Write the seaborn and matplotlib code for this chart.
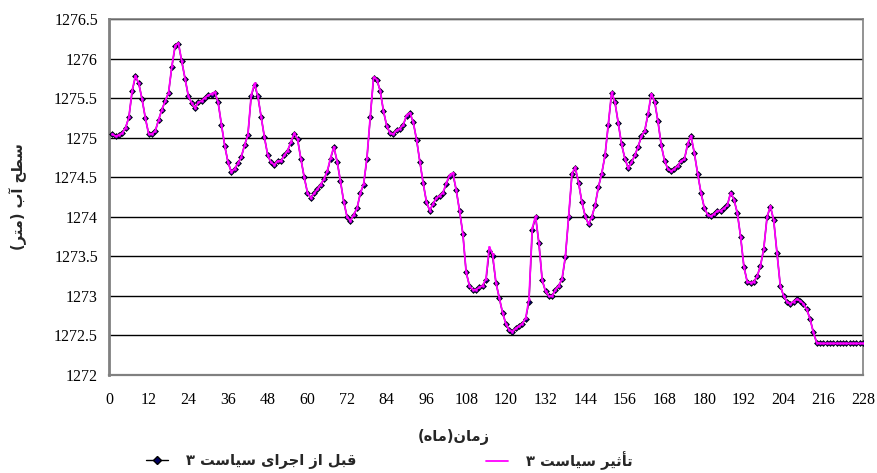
import numpy as np
import matplotlib
matplotlib.use("Agg")
import matplotlib.pyplot as plt
from matplotlib.lines import Line2D
import seaborn as sns

# ---------------- data ----------------
months = np.arange(1, 229)

before_policy = [
    1275.05, 1275.02, 1275.04, 1275.06, 1275.13, 1275.26, 1275.59, 1275.78, 1275.69, 1275.49, 1275.25, 1275.05,
    1275.05, 1275.09, 1275.23, 1275.36, 1275.47, 1275.57, 1275.90, 1276.16, 1276.19, 1275.97, 1275.75, 1275.53,
    1275.44, 1275.38, 1275.45, 1275.47, 1275.51, 1275.54, 1275.55, 1275.57, 1275.45, 1275.17, 1274.90, 1274.69,
    1274.57, 1274.61, 1274.68, 1274.76, 1274.91, 1275.04, 1275.53, 1275.67, 1275.53, 1275.27, 1275.01, 1274.78,
    1274.69, 1274.66, 1274.71, 1274.71, 1274.78, 1274.84, 1274.94, 1275.05, 1274.99, 1274.74, 1274.51, 1274.31,
    1274.24, 1274.30, 1274.35, 1274.41, 1274.48, 1274.57, 1274.74, 1274.88, 1274.70, 1274.45, 1274.19, 1274.00,
    1273.95, 1274.03, 1274.11, 1274.30, 1274.41, 1274.74, 1275.26, 1275.76, 1275.73, 1275.60, 1275.34, 1275.15,
    1275.06, 1275.05, 1275.10, 1275.12, 1275.17, 1275.28, 1275.31, 1275.20, 1274.98, 1274.70, 1274.43, 1274.19,
    1274.08, 1274.17, 1274.24, 1274.27, 1274.30, 1274.42, 1274.52, 1274.54, 1274.34, 1274.08, 1273.79, 1273.30,
    1273.13, 1273.08, 1273.08, 1273.11, 1273.13, 1273.20, 1273.57, 1273.50, 1273.17, 1272.98, 1272.79, 1272.65,
    1272.57, 1272.55, 1272.59, 1272.62, 1272.65, 1272.71, 1272.93, 1273.84, 1274.00, 1273.67, 1273.20, 1273.06,
    1273.00, 1273.00, 1273.08, 1273.13, 1273.21, 1273.49, 1274.00, 1274.54, 1274.62, 1274.43, 1274.19, 1274.01,
    1273.91, 1274.00, 1274.15, 1274.38, 1274.55, 1274.78, 1275.17, 1275.57, 1275.45, 1275.19, 1274.92, 1274.74,
    1274.62, 1274.69, 1274.78, 1274.89, 1275.02, 1275.09, 1275.30, 1275.55, 1275.46, 1275.21, 1274.91, 1274.71,
    1274.61, 1274.58, 1274.61, 1274.65, 1274.71, 1274.73, 1274.92, 1275.02, 1274.81, 1274.55, 1274.31, 1274.12,
    1274.03, 1274.01, 1274.04, 1274.08, 1274.08, 1274.11, 1274.15, 1274.31, 1274.22, 1274.05, 1273.75, 1273.37,
    1273.18, 1273.17, 1273.18, 1273.25, 1273.38, 1273.60, 1274.00, 1274.13, 1273.96, 1273.54, 1273.13, 1273.00,
    1272.93, 1272.90, 1272.93, 1272.96, 1272.94, 1272.90, 1272.83, 1272.71, 1272.54, 1272.41, 1272.40, 1272.40,
    1272.40, 1272.40, 1272.40, 1272.40, 1272.40, 1272.40, 1272.40, 1272.40, 1272.40, 1272.40, 1272.40, 1272.40,
]

after_policy = [
    1275.05, 1275.02, 1275.04, 1275.06, 1275.13, 1275.26, 1275.60, 1275.79, 1275.69, 1275.49, 1275.25, 1275.05,
    1275.05, 1275.09, 1275.23, 1275.36, 1275.47, 1275.57, 1275.91, 1276.17, 1276.20, 1275.97, 1275.75, 1275.53,
    1275.44, 1275.38, 1275.45, 1275.47, 1275.51, 1275.54, 1275.56, 1275.58, 1275.45, 1275.17, 1274.90, 1274.69,
    1274.57, 1274.61, 1274.68, 1274.76, 1274.91, 1275.04, 1275.54, 1275.69, 1275.53, 1275.27, 1275.01, 1274.78,
    1274.69, 1274.66, 1274.71, 1274.71, 1274.78, 1274.84, 1274.95, 1275.06, 1274.99, 1274.74, 1274.51, 1274.31,
    1274.24, 1274.30, 1274.35, 1274.41, 1274.48, 1274.58, 1274.75, 1274.89, 1274.70, 1274.45, 1274.19, 1274.00,
    1273.95, 1274.03, 1274.11, 1274.30, 1274.42, 1274.75, 1275.27, 1275.77, 1275.74, 1275.60, 1275.34, 1275.15,
    1275.06, 1275.05, 1275.10, 1275.12, 1275.17, 1275.29, 1275.32, 1275.20, 1274.98, 1274.70, 1274.43, 1274.19,
    1274.08, 1274.17, 1274.24, 1274.27, 1274.31, 1274.43, 1274.53, 1274.56, 1274.34, 1274.08, 1273.79, 1273.30,
    1273.13, 1273.08, 1273.08, 1273.11, 1273.13, 1273.22, 1273.62, 1273.53, 1273.17, 1272.98, 1272.79, 1272.65,
    1272.57, 1272.55, 1272.59, 1272.62, 1272.65, 1272.72, 1272.96, 1273.86, 1274.01, 1273.67, 1273.20, 1273.06,
    1273.00, 1273.00, 1273.08, 1273.13, 1273.22, 1273.50, 1274.01, 1274.55, 1274.63, 1274.43, 1274.19, 1274.01,
    1273.91, 1274.00, 1274.15, 1274.38, 1274.55, 1274.78, 1275.18, 1275.58, 1275.45, 1275.19, 1274.92, 1274.74,
    1274.62, 1274.69, 1274.78, 1274.89, 1275.02, 1275.09, 1275.31, 1275.56, 1275.46, 1275.21, 1274.91, 1274.71,
    1274.61, 1274.58, 1274.61, 1274.65, 1274.71, 1274.73, 1274.93, 1275.03, 1274.81, 1274.55, 1274.31, 1274.12,
    1274.03, 1274.01, 1274.04, 1274.08, 1274.08, 1274.11, 1274.15, 1274.31, 1274.22, 1274.05, 1273.75, 1273.37,
    1273.18, 1273.17, 1273.18, 1273.25, 1273.38, 1273.60, 1274.00, 1274.14, 1273.96, 1273.54, 1273.13, 1273.00,
    1272.93, 1272.90, 1272.93, 1272.96, 1272.94, 1272.90, 1272.83, 1272.71, 1272.54, 1272.41, 1272.40, 1272.40,
    1272.40, 1272.40, 1272.40, 1272.40, 1272.40, 1272.40, 1272.40, 1272.40, 1272.40, 1272.40, 1272.40, 1272.40,
]

x_ticks = [0, 12, 24, 36, 48, 60, 72, 84, 96, 108, 120, 132, 144, 156, 168, 180, 192, 204, 216, 228]
y_ticks = [1272, 1272.5, 1273, 1273.5, 1274, 1274.5, 1275, 1275.5, 1276, 1276.5]
y_tick_labels = ["1272", "1272.5", "1273", "1273.5", "1274", "1274.5", "1275", "1275.5", "1276", "1276.5"]

x_label = "زمان(ماه)"
y_label = "سطح آب (متر)"
label_before = "قبل از اجرای سیاست ۳"
label_after = "تأثیر سیاست ۳"

# ------------- minimal Persian shaping (presentation forms + RTL) -------------
FORMS = {
    "\u0627": ("\uFE8D", "\uFE8E", None, None),
    "\u0622": ("\uFE81", "\uFE82", None, None),
    "\u0623": ("\uFE83", "\uFE84", None, None),
    "\u0628": ("\uFE8F", "\uFE90", "\uFE91", "\uFE92"),
    "\u062A": ("\uFE95", "\uFE96", "\uFE97", "\uFE98"),
    "\u062B": ("\uFE99", "\uFE9A", "\uFE9B", "\uFE9C"),
    "\u062C": ("\uFE9D", "\uFE9E", "\uFE9F", "\uFEA0"),
    "\u062D": ("\uFEA1", "\uFEA2", "\uFEA3", "\uFEA4"),
    "\u062F": ("\uFEA9", "\uFEAA", None, None),
    "\u0631": ("\uFEAD", "\uFEAE", None, None),
    "\u0632": ("\uFEAF", "\uFEB0", None, None),
    "\u0633": ("\uFEB1", "\uFEB2", "\uFEB3", "\uFEB4"),
    "\u0637": ("\uFEC1", "\uFEC2", "\uFEC3", "\uFEC4"),
    "\u0642": ("\uFED5", "\uFED6", "\uFED7", "\uFED8"),
    "\u0644": ("\uFEDD", "\uFEDE", "\uFEDF", "\uFEE0"),
    "\u0645": ("\uFEE1", "\uFEE2", "\uFEE3", "\uFEE4"),
    "\u0646": ("\uFEE5", "\uFEE6", "\uFEE7", "\uFEE8"),
    "\u0647": ("\uFEE9", "\uFEEA", "\uFEEB", "\uFEEC"),
    "\u0648": ("\uFEED", "\uFEEE", None, None),
    "\u06CC": ("\uFEEF", "\uFEF0", "\uFEF3", "\uFEF4"),
}


def fa(s):
    out = []
    for i, c in enumerate(s):
        f = FORMS.get(c)
        if f is None:
            out.append(c)
            continue
        prev = s[i - 1] if i > 0 else ""
        nxt = s[i + 1] if i + 1 < len(s) else ""
        jp = prev in FORMS and FORMS[prev][2] is not None
        jn = nxt in FORMS and f[2] is not None
        if jp and jn:
            g = f[3]
        elif jp:
            g = f[1]
        elif jn:
            g = f[2]
        else:
            g = f[0]
        out.append(g)
    mirror = {"(": ")", ")": "("}
    return "".join(mirror.get(c, c) for c in reversed(out))


# ---------------- plot ----------------
sns.set_style("white")
plt.rcParams["font.family"] = ["Liberation Serif", "DejaVu Sans"]

fig = plt.figure(figsize=(8.77, 4.73), dpi=100)
ax = fig.add_axes([0.1243, 0.2072, 0.8597, 0.7516])

sns.lineplot(x=months, y=before_policy, ax=ax, color="black", lw=1.0,
             marker="D", markersize=3.0, markerfacecolor="#000060",
             markeredgecolor="black", markeredgewidth=0.5, zorder=3, legend=False)
sns.lineplot(x=months, y=after_policy, ax=ax, color="#FF00FF", lw=1.3,
             marker="o", markersize=1.6, markerfacecolor="#FF00FF",
             markeredgecolor="#FF00FF", markeredgewidth=0.3, zorder=4, legend=False)

ax.set_xlim(0, 228)
ax.set_ylim(1272, 1276.5)
ax.set_xticks(x_ticks)
ax.set_xticklabels([str(t) for t in x_ticks])
ax.set_yticks(y_ticks)
ax.set_yticklabels(y_tick_labels)
ax.yaxis.grid(True, color="black", lw=1.0)
ax.xaxis.grid(False)
ax.set_axisbelow(True)
for side, lw in [("left", 2.0), ("bottom", 1.6), ("top", 1.2), ("right", 1.2)]:
    ax.spines[side].set_color("#808080")
    ax.spines[side].set_linewidth(lw)
    ax.spines[side].set_visible(True)
ax.tick_params(axis="both", direction="out", length=5, width=1, color="#808080",
               labelsize=11.5, labelcolor="black")
ax.tick_params(axis="x", pad=7)
ax.tick_params(axis="y", pad=3)
ax.set_xlabel("")
ax.set_ylabel("")

fig.text(454 / 877, 1 - 437 / 473, fa(x_label), ha="center", va="center",
         fontsize=10.5, fontweight="bold", family=["DejaVu Sans"])
fig.text(18 / 877, 1 - 197 / 473, fa(y_label), ha="center", va="center",
         rotation=90, fontsize=10.5, fontweight="bold", family=["DejaVu Sans"])

h_before = Line2D([], [], color="black", lw=1.0, marker="D", markersize=3.6,
                  markerfacecolor="#000060", markeredgecolor="black")
h_after = Line2D([], [], color="#FF00FF", lw=1.3)
leg_props = dict(family=["DejaVu Sans"], weight="bold", size=10.5)
fig.legend([h_before], [fa(label_before)], loc="center left",
           bbox_to_anchor=(133 / 877, 1 - 461 / 473), frameon=False,
           handlelength=1.5, handletextpad=1.2, prop=leg_props)
fig.legend([h_after], [fa(label_after)], loc="center left",
           bbox_to_anchor=(473 / 877, 1 - 461 / 473), frameon=False,
           handlelength=1.5, handletextpad=1.2, prop=leg_props)

fig.savefig("out.png", dpi=100)
